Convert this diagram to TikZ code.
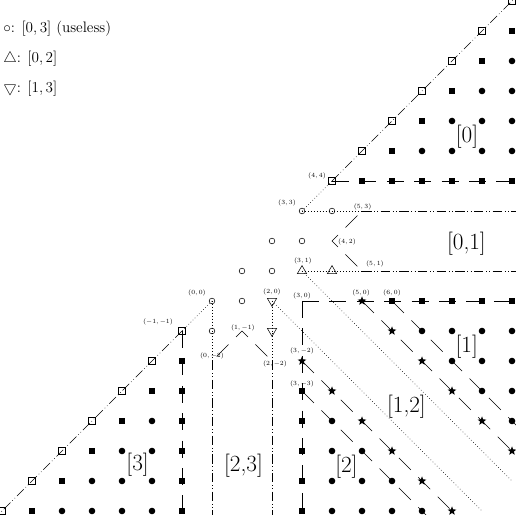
\documentclass[tikz,border=0pt]{standalone}
\usepackage{amssymb}
\usepackage{fontspec}
\usetikzlibrary{shapes.geometric}
\begin{document}
\begin{tikzpicture}[x=1cm,y=1cm,line width=0.5pt,
  dashline/.style={dash pattern=on 16pt off 10pt},
  ddline/.style={dash pattern=on 9pt off 2.5pt on 0.6pt off 2.5pt on 0.6pt off 2.5pt},
  dotline/.style={dash pattern=on 0.6pt off 2.2pt},
  hcirc/.style={circle,draw,inner sep=0pt,minimum size=0.19cm},
  fcirc/.style={circle,fill,inner sep=0pt,minimum size=0.22cm},
  fsq/.style={rectangle,fill,inner sep=0pt,minimum size=0.23cm},
  hsq/.style={rectangle,draw,inner sep=0pt,minimum size=0.25cm},
  tup/.style={regular polygon,regular polygon sides=3,draw,inner sep=0pt,minimum size=0.36cm},
  tdown/.style={tup,shape border rotate=180},
  fstar/.style={star,star points=5,star point ratio=2.4,fill,inner sep=0pt,minimum size=0.31cm},
  plab/.style={font=\fontsize{6.5}{7}\selectfont,inner sep=0.3pt},
  rlab/.style={font=\fontsize{22}{26}\selectfont,inner sep=0pt},
  leg/.style={font=\fontsize{14.4}{17}\selectfont,inner sep=0pt,anchor=west}
]
\useasboundingbox (-7.067,-7.133) rectangle (10.133,10.033);
\clip (-7.067,-7.133) rectangle (10.133,10.033);

% lattice coordinates
\foreach \i in {-7,...,10}{
  \foreach \j in {-7,...,10}{
    \coordinate (p\i_\j) at (\i,\j);
  }
}
% edge coordinates
\coordinate (eTR) at (10.4,10.4);
\coordinate (eBL) at (-7.4,-7.4);
\coordinate (eR4) at (10.4,4);
\coordinate (eR3) at (10.4,3);
\coordinate (eR1) at (10.4,1);
\coordinate (eR0) at (10.4,0);
\coordinate (eB3) at (3,-7.4);
\coordinate (eBm1) at (-1,-7.4);
\coordinate (eB0) at (0,-7.4);
\coordinate (eB2) at (2,-7.4);
\coordinate (eD50) at (10.5,-5.5);
\coordinate (eD60) at (10.5,-4.5);
\coordinate (eD3m2) at (8.5,-7.5);
\coordinate (eD3m3) at (7.5,-7.5);

% connectors
\draw[dotline] (p3_3) -- (p4_4);
\draw[ddline] (p4_4) -- (eTR);
\draw[dashline] (p4_4) -- (eR4);
\draw[dotline] (p3_3) -- (p5_3);
\draw[ddline] (p5_3) -- (eR3);
\draw[dashline,dash phase=19.8pt] (p5_3) -- (p4_2) -- (p5_1);
\draw[dotline] (p3_1) -- (p5_1);
\draw[ddline] (p5_1) -- (eR1);
\draw[dotline] (p3_1) -- (p10_-6);
\draw[dotline] (p2_0) -- (p9_-7);
\draw[dotline] (p2_0) -- (p2_-2);
\draw[dotline] (p0_0) -- (p0_-2);
\draw[dashline,dash phase=19.8pt] (p0_-2) -- (p1_-1) -- (p2_-2);
\draw[ddline] (p0_-2) -- (eB0);
\draw[ddline] (p2_-2) -- (eB2);
\draw[dotline] (p0_0) -- (p-1_-1);
\draw[ddline] (p-1_-1) -- (eBL);
\draw[dashline] (p-1_-1) -- (eBm1);
\draw[dashline] (p3_0) -- (eR0);
\draw[dashline] (p3_0) -- (eB3);
\draw[dashline] (p5_0) -- (eD50);
\draw[dashline] (p6_0) -- (eD60);
\draw[dashline] (p3_-2) -- (eD3m2);
\draw[dashline] (p3_-3) -- (eD3m3);

% hollow circles
\foreach \i/\j in {3/3,4/3,2/2,3/2,1/1,2/1,0/0,1/0,0/-1}
  \node[hcirc] (hc\i_\j) at (p\i_\j) {};
% triangles
\foreach \i/\j in {3/1,4/1}
  \node[tup] (tu\i_\j) at (p\i_\j) {};
\foreach \i/\j in {2/0,2/-1}
  \node[tdown] (td\i_\j) at (p\i_\j) {};
% hollow squares on diagonals
\foreach \k in {4,...,10,-1,-2,-3,-4,-5,-6,-7}
  \node[hsq] (hs\k) at (p\k_\k) {};
% filled squares
\foreach \k in {5,...,9}{
  \pgfmathtruncatemacro{\kk}{\k+1}
  \node[fsq] (fsa\k) at (p\kk_\k) {};
}
\foreach \k in {5,...,10}
  \node[fsq] (fsb\k) at (p\k_4) {};
\foreach \k in {6,...,10}
  \node[fsq] (fsc\k) at (p\k_0) {};
\foreach \k in {-3,...,-7}
  \node[fsq] (fsd\k) at (p3_\k) {};
\foreach \k in {-2,...,-7}
  \node[fsq] (fse\k) at (p-1_\k) {};
\foreach \k in {-3,...,-7}{
  \pgfmathtruncatemacro{\kk}{\k+1}
  \node[fsq] (fsf\k) at (p\kk_\k) {};
}
% filled circles region [0]
\foreach \j in {5,...,8}{
  \pgfmathtruncatemacro{\st}{\j+2}
  \foreach \i in {\st,...,10}
    \node[fcirc] (fa\i_\j) at (p\i_\j) {};
}
% filled circles region [1]
\foreach \j in {-1,...,-4}{
  \pgfmathtruncatemacro{\st}{6-\j}
  \foreach \i in {\st,...,10}
    \node[fcirc] (fb\i_\j) at (p\i_\j) {};
}
% filled circles region [2]
\foreach \j in {-4,...,-7}{
  \pgfmathtruncatemacro{\en}{-\j}
  \foreach \i in {4,...,\en}
    \node[fcirc] (fc\i_\j) at (p\i_\j) {};
}
% filled circles region [3]
\foreach \j in {-4,...,-7}{
  \pgfmathtruncatemacro{\st}{\j+2}
  \foreach \i in {\st,...,-2}
    \node[fcirc] (fd\i_\j) at (p\i_\j) {};
}
% stars
\foreach \i/\j in {5/0,6/-1,7/-2,8/-3,9/-4,10/-5,3/-2,4/-3,5/-4,6/-5,7/-6,8/-7}
  \node[fstar] (st\i_\j) at (p\i_\j) {};

% point labels
\node[plab] (l44) at (3.5,4.17) {$(4,4)$};
\node[plab] (l33) at (2.5,3.27) {$(3,3)$};
\node[plab] (l53) at (5.02,3.14) {$(5,3)$};
\node[plab] (l42) at (4.5,1.97) {$(4,2)$};
\node[plab] (l51) at (5.43,1.23) {$(5,1)$};
\node[plab] (l31) at (3.03,1.33) {$(3,1)$};
\node[plab] (l00) at (-0.5,0.27) {$(0,0)$};
\node[plab] (l20) at (2.0,0.3) {$(2,0)$};
\node[plab] (l30) at (3.0,0.17) {$(3,0)$};
\node[plab] (l50) at (4.97,0.28) {$(5,0)$};
\node[plab] (l60) at (6.0,0.28) {$(6,0)$};
\node[plab] (lm1m1) at (-1.8,-0.7) {$(-1,-1)$};
\node[plab] (l1m1) at (1.03,-0.9) {$(1,-1)$};
\node[plab] (l0m2) at (0,-1.83) {$(0,-2)$};
\node[plab] (l2m2) at (2.1,-2.1) {$(2,-2)$};
\node[plab] (l3m2) at (3.0,-1.67) {$(3,-2)$};
\node[plab] (l3m3) at (3.0,-2.77) {$(3,-3)$};

% region labels
\node[rlab] (r0) at (8.5,5.47) {[0]};
\node[rlab] (r01) at (8.48,1.9) {[0,1]};
\node[rlab] (r1) at (8.49,-1.53) {[1]};
\node[rlab] (r12) at (6.48,-3.53) {[1,2]};
\node[rlab] (r2) at (4.48,-5.53) {[2]};
\node[rlab] (r23) at (1.05,-5.5) {[2,3]};
\node[rlab] (r3) at (-2.48,-5.47) {[3]};

% legend
\node[leg] (leg1) at (-6.967,9.08) {$\circ$: $[0,3]$ (useless)};
\node[leg] (leg2) at (-6.967,8.08) {$\triangle$: $[0,2]$};
\node[leg] (leg3) at (-6.967,7.08) {$\bigtriangledown$: $[1,3]$};
\end{tikzpicture}
\end{document}
